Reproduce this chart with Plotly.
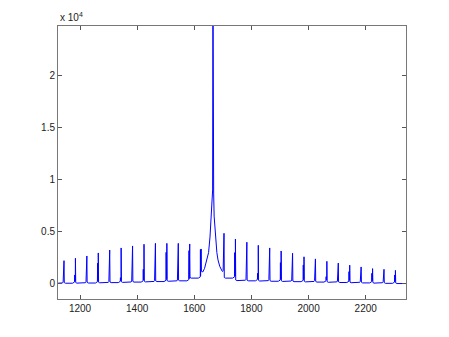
import plotly.graph_objects as go

# ---- data ----
peak_x = [1144, 1184, 1224, 1264, 1304, 1344, 1384, 1424, 1464, 1504, 1544, 1584, 1624,
          1704, 1744, 1784, 1824, 1864, 1904, 1944, 1984, 2024, 2064, 2104, 2144, 2184,
          2224, 2264, 2304]
peak_h = [2230, 2460, 2680, 2970, 3250, 3450, 3640, 3800, 3890, 3890, 3890, 3830, 3350,
          4850, 4300, 4000, 3700, 3450, 3160, 2940, 2600, 2400, 2170, 2000, 1800, 1630,
          1470, 1400, 1300]
peak_h2 = [1340, 860, 2040, 1980, 1020, 600, 2230, 1400, 3000, 3030, 1660, 3190, 3300,
           2610, 3000, 2610, 1020, 2400, 2040, 1020, 1820, 1500, 700, 1400, 1180, 1080,
           1020, 1020, 860]
# baseline level of each gap: before first peak, between peaks, after last peak
gap_level = [60, 70, 80, 90, 110, 130, 150, 180, 200, 230, 260, 300, 560, None,
             560, 320, 300, 280, 260, 240, 220, 200, 180, 160, 140, 120, 100, 80, 60, 40]
# central peak and its broad shoulders
main_x = [1630, 1636, 1644, 1650, 1655, 1659, 1661, 1662.8, 1664.2, 1665.3, 1666.4, 1667.8,
          1669.5, 1674, 1679, 1683, 1689, 1697]
main_y = [1150, 1500, 2300, 3000, 4500, 6500, 8200, 8700, 9000, 30000, 9000, 8700,
          6500, 4500, 3000, 2300, 1700, 1250]

x_range = [1123, 2341]
y_range = [-1440, 24700]
x_ticks = [1200, 1400, 1600, 1800, 2000, 2200]
y_ticks = [0, 5000, 10000, 15000, 20000]
y_ticklabels = ["0", "0.5", "1", "1.5", "2"]

# ---- build the polyline from the peak tables ----
pts = [(1118, gap_level[0])]
for i, (c, h, h2) in enumerate(zip(peak_x, peak_h, peak_h2)):
    bl = gap_level[i] if gap_level[i] is not None else 1150
    br = gap_level[i + 1] if gap_level[i + 1] is not None else 1150
    if gap_level[i] is not None:
        pts.append((c - 10, bl))
    pts += [(c - 5, bl + 40), (c - 3, bl + 120), (c - 2.5, h2), (c - 2, bl + 200),
            (c - 0.5, bl + 250), (c, h), (c + 1, br + 60)]
    if gap_level[i + 1] is not None:
        pts.append((c + 5, br))
pts += list(zip(main_x, main_y))
pts.append((2346, gap_level[-1]))
pts.sort(key=lambda p: p[0])
xs = [p[0] for p in pts]
ys = [p[1] for p in pts]

fig = go.Figure(go.Scatter(x=xs, y=ys, mode="lines",
                           line=dict(color="#0000ff", width=1), hoverinfo="skip"))

axis_common = dict(showgrid=False, zeroline=False, showline=True, linecolor="#777777",
                   linewidth=1, mirror="ticks", ticks="inside", ticklen=4,
                   tickcolor="#555555", tickwidth=1,
                   tickfont=dict(family="Liberation Sans, Arial", size=10, color="#222222"))

fig.update_layout(
    width=449, height=337,
    margin=dict(l=58, r=43, t=26, b=38),
    paper_bgcolor="white", plot_bgcolor="white",
    showlegend=False,
    xaxis=dict(range=x_range, tickvals=x_ticks, **axis_common),
    yaxis=dict(range=y_range, tickvals=y_ticks, ticktext=y_ticklabels, **axis_common),
    annotations=[dict(text="x 10<sup>4</sup>", xref="paper", yref="paper", x=0, y=1,
                      xanchor="left", yanchor="bottom", showarrow=False, yshift=1,
                      font=dict(family="Liberation Sans, Arial", size=10, color="#222222"))],
)

fig.write_html("out.html")
